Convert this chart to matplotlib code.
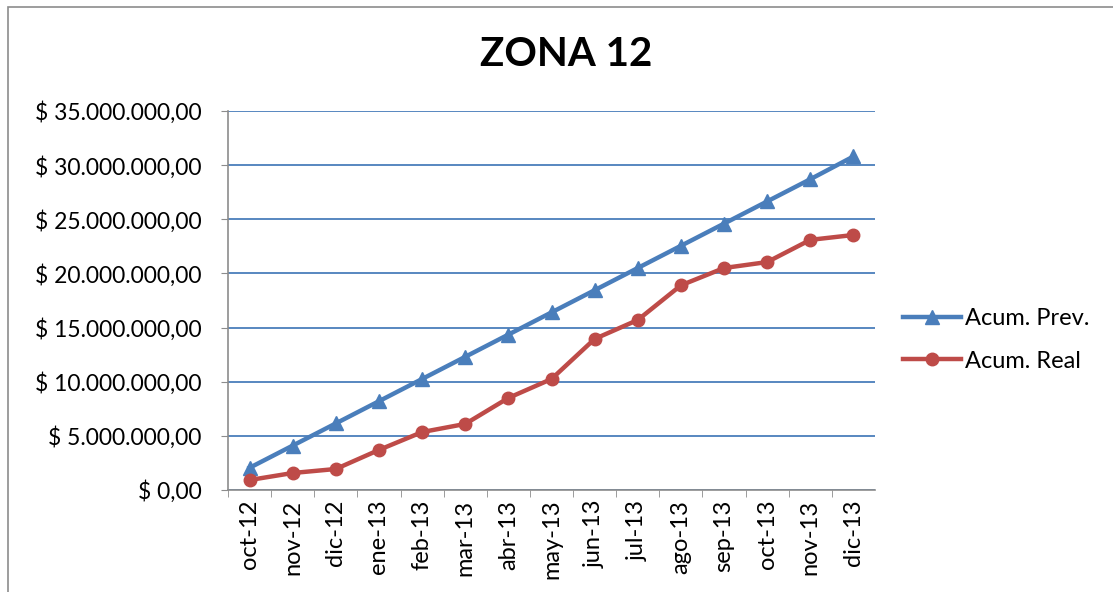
import matplotlib
matplotlib.use("Agg")
import matplotlib.pyplot as plt
from matplotlib.patches import Rectangle
from matplotlib.ticker import FuncFormatter, MultipleLocator

months = ["oct-12", "nov-12", "dic-12", "ene-13", "feb-13", "mar-13", "abr-13",
          "may-13", "jun-13", "jul-13", "ago-13", "sep-13", "oct-13", "nov-13", "dic-13"]
acum_prev = [2.05e6, 4.1e6, 6.15e6, 8.2e6, 10.25e6, 12.3e6, 14.35e6, 16.4e6,
             18.45e6, 20.5e6, 22.55e6, 24.6e6, 26.65e6, 28.7e6, 30.8e6]
acum_real = [0.92e6, 1.57e6, 1.94e6, 3.7e6, 5.35e6, 6.1e6, 8.5e6, 10.25e6,
             13.95e6, 15.7e6, 18.9e6, 20.5e6, 21.05e6, 23.1e6, 23.55e6]

plt.rcParams['font.family'] = ['Lato', 'DejaVu Sans']

W, H = 1113, 592
fig = plt.figure(figsize=(W / 100, H / 100), dpi=100)
fig.patches.append(Rectangle((8 / W, -0.1), 1.2, 1.1 - 7 / H, transform=fig.transFigure,
                             fill=False, edgecolor="#8c8c8c", linewidth=1.2))

ax = fig.add_axes([228 / W, 1 - 490 / H, (875 - 228) / W, (490 - 111) / H])
x = list(range(len(months)))
blue = "#4A7EBB"
red = "#BE4B48"
ax.plot(x, acum_prev, color=blue, lw=3.2, marker="^", ms=10, label="Acum. Prev.")
ax.plot(x, acum_real, color=red, lw=3.2, marker="o", ms=9, label="Acum. Real")

ax.set_xlim(-0.5, len(months) - 0.5)
ax.set_ylim(0, 35e6)
ax.yaxis.set_major_locator(MultipleLocator(5e6))

def fmt(v, pos):
    s = f"{v:,.2f}".replace(",", "X").replace(".", ",").replace("X", ".")
    return "$ " + s

ax.yaxis.set_major_formatter(FuncFormatter(fmt))
ax.set_xticks(x)
ax.set_xticklabels(months, rotation=90)
ax.tick_params(axis="x", length=0, pad=7, labelsize=17)
ax.tick_params(axis="y", length=5, color="#8c8c8c", pad=14, labelsize=16.5)
ax.set_xticks([i + 0.5 for i in x[:-1]] + [-0.5], minor=True)
ax.tick_params(axis="x", which="minor", length=5, color="#8c8c8c")

ax.grid(axis="y", color=blue, lw=1.3)
ax.set_axisbelow(True)
for s in ["top", "right"]:
    ax.spines[s].set_visible(False)
for s in ["left", "bottom"]:
    ax.spines[s].set_color("#8c8c8c")
    ax.spines[s].set_linewidth(1.2)

fig.text(566 / W, 1 - 55 / H, "ZONA 12", ha="center", va="center",
         fontsize=29, fontweight="bold")

leg = fig.legend(loc="center left", bbox_to_anchor=(882 / W, 1 - 340 / H),
                 frameon=False, fontsize=17, handlelength=2.45, handletextpad=0.15,
                 labelspacing=0.9)

fig.savefig("out.png", dpi=100)
